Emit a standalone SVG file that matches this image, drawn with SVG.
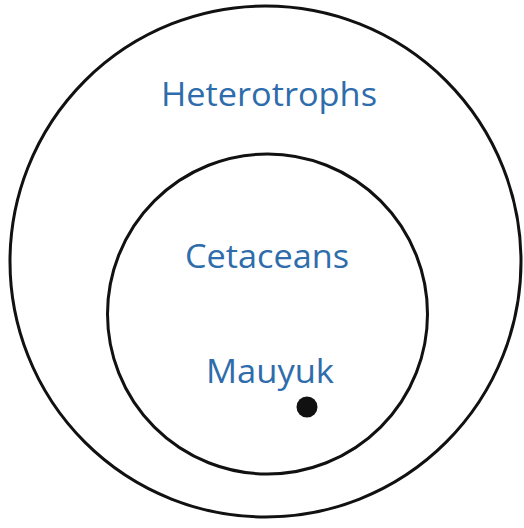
<svg xmlns="http://www.w3.org/2000/svg" width="524" height="528" viewBox="0 0 524 528">
<style>
.ring{fill:none;stroke:#111;stroke-width:3}
.lbl{font-family:"Open Sans","Liberation Sans",sans-serif;fill:#2e6cab;text-anchor:middle}
</style>
<rect width="524" height="528" fill="#fff"/>
<g id="heterotrophs">
<circle class="ring" cx="265.5" cy="261.5" r="255.5"/>
<text class="lbl" x="269" y="106" font-size="32" textLength="216" lengthAdjust="spacingAndGlyphs">Heterotrophs</text>
</g>
<g id="cetaceans">
<circle class="ring" cx="267.5" cy="314" r="160"/>
<text class="lbl" x="267" y="268" font-size="32" textLength="164" lengthAdjust="spacingAndGlyphs">Cetaceans</text>
</g>
<g id="mauyuk">
<text class="lbl" x="270" y="383" font-size="32" textLength="128" lengthAdjust="spacingAndGlyphs">Mauyuk</text>
<circle cx="307" cy="407" r="10.5" fill="#111"/>
</g>
<g id="connectors"/>
</svg>
